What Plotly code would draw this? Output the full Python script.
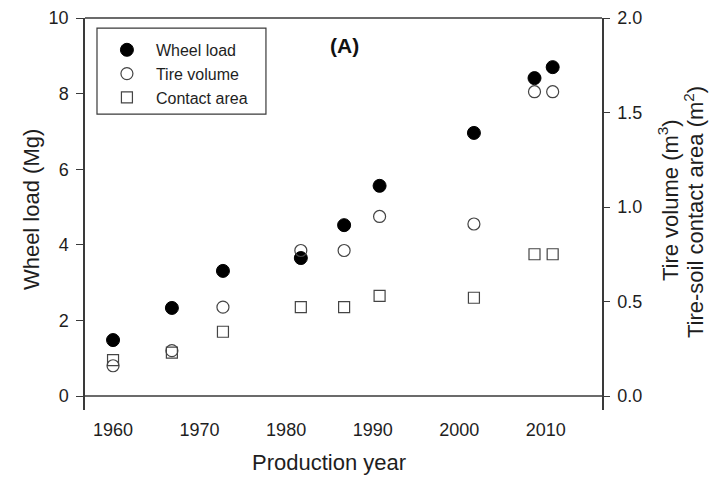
import plotly.graph_objects as go

years_wheel = [1960, 1966.8, 1972.7, 1981.7, 1986.7, 1990.8, 2001.7, 2008.7, 2010.8]
wheel_load = [1.48, 2.33, 3.31, 3.65, 4.52, 5.56, 6.96, 8.41, 8.70]
tire_volume = [0.16, 0.24, 0.47, 0.77, 0.77, 0.95, 0.91, 1.61, 1.61]
contact_area = [0.19, 0.23, 0.34, 0.47, 0.47, 0.53, 0.52, 0.75, 0.75]
x_ticks = [1960, 1970, 1980, 1990, 2000, 2010]
y_left_ticks = [0, 2, 4, 6, 8, 10]
y_right_ticks = [0.0, 0.5, 1.0, 1.5, 2.0]

FONT = "Liberation Sans, Arial, sans-serif"
AX = "#3a3a3a"
TXT = "#1e1e1e"

fig = go.Figure()
fig.add_trace(go.Scatter(x=years_wheel, y=wheel_load, mode="markers", name="Wheel load",
                         marker=dict(symbol="circle", size=13, color="black",
                                     line=dict(color="black", width=1))))
fig.add_trace(go.Scatter(x=years_wheel, y=tire_volume, mode="markers", name="Tire volume",
                         yaxis="y2",
                         marker=dict(symbol="circle-open", size=12, color="#444",
                                     line=dict(width=1.2))))
fig.add_trace(go.Scatter(x=years_wheel, y=contact_area, mode="markers", name="Contact area",
                         yaxis="y2",
                         marker=dict(symbol="square-open", size=11, color="#444",
                                     line=dict(width=1.2))))

fig.update_layout(
    width=709, height=478,
    margin=dict(l=85, r=107, t=18, b=68),
    paper_bgcolor="white", plot_bgcolor="white",
    font=dict(family=FONT, size=18, color=TXT),
    showlegend=True,
    legend=dict(x=0.025, y=0.962, xanchor="left", yanchor="top",
                borderwidth=0, bgcolor="rgba(0,0,0,0)",
                font=dict(size=16, family=FONT, color=TXT), itemwidth=48,
                tracegroupgap=0),
    xaxis=dict(range=[1956.76, 2016.5], tickvals=x_ticks, showline=False,
               showgrid=False, zeroline=False, ticks="", tickfont=dict(size=18),
               ticklabelstandoff=7, automargin=False),
    yaxis=dict(range=[-0.37, 10], tickvals=y_left_ticks, showline=True, linecolor=AX,
               linewidth=1.5, ticks="outside", ticklen=7, tickcolor=AX,
               showgrid=False, zeroline=False, tickfont=dict(size=18),
               ticklabelstandoff=4, automargin=False),
    yaxis2=dict(range=[-0.074, 2.0], tickvals=y_right_ticks, tickformat=".1f",
                overlaying="y", side="right", showline=True, linecolor=AX,
                linewidth=1.5, ticks="outside", ticklen=6, tickcolor=AX,
                showgrid=False, zeroline=False, tickfont=dict(size=18),
                ticklabelstandoff=4, automargin=False),
)

# top border, zero line, legend frame
fig.add_shape(type="line", xref="paper", yref="paper", x0=0, x1=1, y0=1, y1=1,
              line=dict(color=AX, width=1.5))
fig.add_shape(type="line", xref="paper", yref="y", x0=0, x1=1, y0=0, y1=0,
              line=dict(color=AX, width=1.5))
fig.add_shape(type="rect", xref="paper", yref="paper", x0=0.0232, x1=0.350,
              y0=0.755, y1=0.974, line=dict(color=AX, width=1.2), layer="above")

fig.add_annotation(text="<b>(A)</b>", xref="paper", yref="paper", x=0.501, y=0.929,
                   xanchor="center", yanchor="middle", showarrow=False,
                   font=dict(size=21, family=FONT, color="#111"))
fig.add_annotation(text="Wheel load (Mg)", xref="paper", yref="paper",
                   x=-0.1044, y=0.510, xanchor="center", yanchor="middle",
                   textangle=-90, showarrow=False,
                   font=dict(size=22, family=FONT, color=TXT))
fig.add_annotation(text="Tire volume (m<sup>3</sup>)", xref="paper", yref="paper",
                   x=1.128, y=0.536, xanchor="center", yanchor="middle",
                   textangle=-90, showarrow=False,
                   font=dict(size=22, family=FONT, color=TXT))
fig.add_annotation(text="Tire-soil contact area (m<sup>2</sup>)", xref="paper", yref="paper",
                   x=1.178, y=0.505, xanchor="center", yanchor="middle",
                   textangle=-90, showarrow=False,
                   font=dict(size=22, family=FONT, color=TXT))
fig.add_annotation(text="Production year", xref="paper", yref="paper",
                   x=0.472, y=-0.135, xanchor="center", yanchor="middle", showarrow=False,
                   font=dict(size=22, family=FONT, color=TXT))

fig.write_html("out.html", config={"displayModeBar": False},
               post_script="document.body.style.margin='0';document.body.style.overflow='hidden';")
